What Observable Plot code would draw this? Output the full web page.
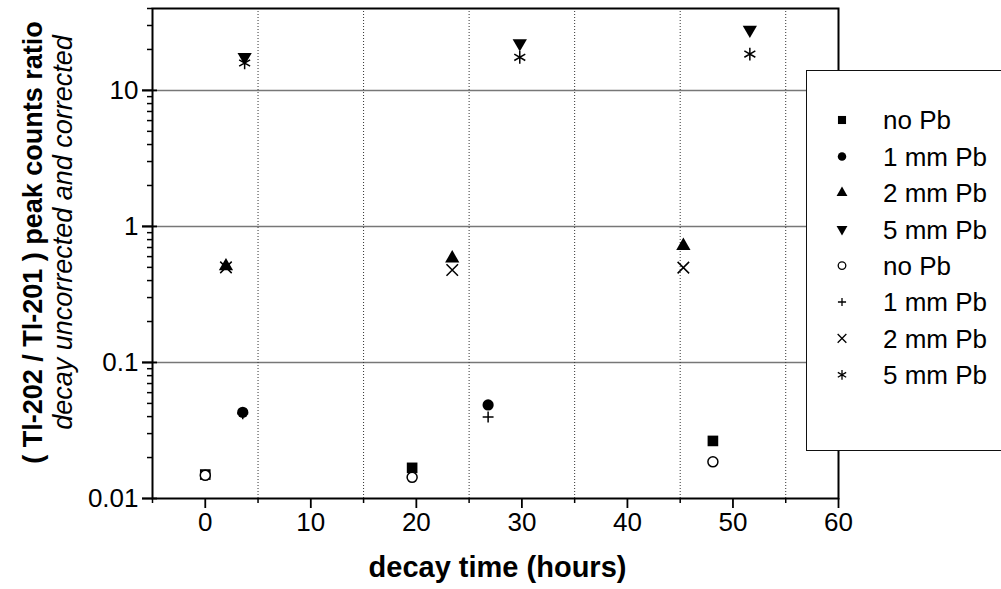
<!DOCTYPE html>
<html><head><meta charset="utf-8">
<script src="https://cdn.jsdelivr.net/npm/d3@7"></script>
<script src="https://cdn.jsdelivr.net/npm/@observablehq/plot@0.6"></script>
<style>
html,body{margin:0;padding:0;background:#fff;overflow:hidden}
#wrap{position:relative;width:1001px;height:589px;font-family:"Liberation Sans",Arial,sans-serif}
#legend{position:absolute;left:806px;top:70px;width:230px;height:381px;border:1.5px solid #111;background:#fff;box-sizing:border-box}
</style></head><body><div id="wrap"><div id="legend"></div></div>
<script>
// ---- data ----
const timesNoPb = [0, 19.6, 48.1];
const noPbUncorrected = [0.015, 0.0168, 0.0265];
const noPbCorrected = [0.0148, 0.0143, 0.0186];
const times1mm = [3.55, 26.8];
const mm1Uncorrected = [0.043, 0.0487];
const mm1Corrected = [0.042, 0.0397];
const times2mm = [1.96, 23.4, 45.3];
const mm2Uncorrected = [0.51, 0.583, 0.72];
const mm2Corrected = [0.50, 0.478, 0.498];
const times5mm = [3.73, 29.8, 51.6];
const mm5Uncorrected = [17.6, 22.2, 27.9];
const mm5Corrected = [15.9, 17.5, 18.5];

const xTicks = [0, 10, 20, 30, 40, 50, 60];
const xMinorTicks = [-5, 5, 15, 25, 35, 45, 55];
const xGrid = [5, 15, 25, 35, 45, 55];
const yTicks = [0.01, 0.1, 1, 10];
const yMinorTicks = [0.02, 0.03, 0.04, 0.05, 0.06, 0.07, 0.08, 0.09,
  0.2, 0.3, 0.4, 0.5, 0.6, 0.7, 0.8, 0.9, 2, 3, 4, 5, 6, 7, 8, 9, 20, 30, 40];
const yGrid = [0.1, 1, 10];
const legendLabels = ["no Pb", "1 mm Pb", "2 mm Pb", "5 mm Pb", "no Pb", "1 mm Pb", "2 mm Pb", "5 mm Pb"];
const xLabel = "decay time (hours)";
const yLabel1 = "( Tl-202 / Tl-201 ) peak counts ratio";
const yLabel2 = "decay uncorrected and corrected";

const rows = (t, v) => t.map((x, i) => ({t: x, v: v[i]}));

const triangleDown = {
  draw(context, size) {
    const y = Math.sqrt(size / (Math.sqrt(3) * 3));
    context.moveTo(0, y * 2);
    context.lineTo(-Math.sqrt(3) * y, -y);
    context.lineTo(Math.sqrt(3) * y, -y);
    context.closePath();
  }
};

const series = [
  {t: timesNoPb, v: noPbUncorrected, symbol: "square", r: 6.0, fill: "black", stroke: "none"},
  {t: times1mm, v: mm1Uncorrected, symbol: "circle", r: 5.6, fill: "black", stroke: "none"},
  {t: times2mm, v: mm2Uncorrected, symbol: "triangle", r: 5.3, fill: "black", stroke: "none"},
  {t: times5mm, v: mm5Uncorrected, symbol: triangleDown, r: 5.3, fill: "black", stroke: "none"},
  {t: timesNoPb, v: noPbCorrected, symbol: "circle", r: 5.0, fill: "white", stroke: "black"},
  {t: times1mm, v: mm1Corrected, symbol: "plus", r: 3.6, fill: "none", stroke: "black"},
  {t: times2mm, v: mm2Corrected, symbol: "times", r: 5.3, fill: "none", stroke: "black"},
  {t: times5mm, v: mm5Corrected, symbol: "asterisk", r: 6.0, fill: "none", stroke: "black"}
];

const font = "'Liberation Sans', Arial, sans-serif";

const chart = Plot.plot({
  width: 1001,
  height: 589,
  marginLeft: 152,
  marginRight: 163,
  marginTop: 8,
  marginBottom: 91,
  style: {fontFamily: font, color: "black", background: "white", overflow: "visible"},
  x: {domain: [-5, 60]},
  y: {type: "log", domain: [0.01, 40]},
  marks: [
    Plot.ruleY(yGrid, {stroke: "#777", strokeWidth: 1.5}),
    Plot.ruleX(xGrid, {stroke: "#333", strokeWidth: 1, strokeDasharray: "1,2"}),
    Plot.axisX(xTicks, {tickSize: 10, tickPadding: 4, fontSize: 26, strokeWidth: 1.8, label: null, tickFormat: d => String(d)}),
    Plot.axisX(xMinorTicks, {tickSize: 5, strokeWidth: 1.5, label: null, tickFormat: () => ""}),
    Plot.axisY(yTicks, {tickSize: 10, tickPadding: 4, fontSize: 26, strokeWidth: 1.8, label: null, tickFormat: d => String(d)}),
    Plot.axisY(yTicks, {tickSize: 15, dx: 5, strokeWidth: 1.8, label: null, tickFormat: () => ""}),
    Plot.axisY(yMinorTicks, {tickSize: 5, strokeWidth: 1.5, label: null, tickFormat: () => ""}),
    Plot.frame({stroke: "black", strokeWidth: 2}),
    ...series.map(s => Plot.dot(rows(s.t, s.v), {
      x: "t", y: "v", symbol: s.symbol, r: s.r, fill: s.fill, stroke: s.stroke, strokeWidth: 1.5
    })),
    Plot.text([yLabel1], {text: d => d, frameAnchor: "left", textAnchor: "middle", lineAnchor: "middle", rotate: -90, dx: -119, dy: -11, fontSize: 27, fontWeight: "bold", fontFamily: font}),
    Plot.text([yLabel2], {text: d => d, frameAnchor: "left", textAnchor: "middle", lineAnchor: "middle", rotate: -90, dx: -89, dy: -21, fontSize: 27, fontStyle: "italic", fontFamily: font}),
    Plot.text([xLabel], {text: d => d, frameAnchor: "bottom", textAnchor: "middle", lineAnchor: "middle", dx: 2, dy: 69, fontSize: 29, fontWeight: "bold", fontFamily: font})
  ]
});
const wrap = document.getElementById("wrap");
wrap.insertBefore(chart, wrap.firstChild);
chart.style.position = "absolute";
chart.style.left = "0px";
chart.style.top = "0px";

// ---- legend ----
const legendSymbols = [d3.symbolSquare, d3.symbolCircle, d3.symbolTriangle, triangleDown,
  d3.symbolCircle, d3.symbolPlus, d3.symbolTimes, d3.symbolAsterisk];
const lsvg = d3.select("#legend").append("svg").attr("width", 230).attr("height", 378)
  .style("position", "absolute").style("left", "0px").style("top", "0px");
legendLabels.forEach((label, i) => {
  const s = series[i];
  const rr = s.r * 0.76;
  const y = 49 + 36.4 * i;
  lsvg.append("path")
    .attr("transform", `translate(35,${y})`)
    .attr("d", d3.symbol(legendSymbols[i], rr * rr * Math.PI)())
    .attr("fill", s.fill).attr("stroke", s.stroke).attr("stroke-width", 1.3);
  lsvg.append("text").attr("x", 76).attr("y", y).attr("dy", "0.36em")
    .attr("font-size", 26).attr("font-family", font).attr("fill", "black").text(label);
});
</script>
</body></html>
